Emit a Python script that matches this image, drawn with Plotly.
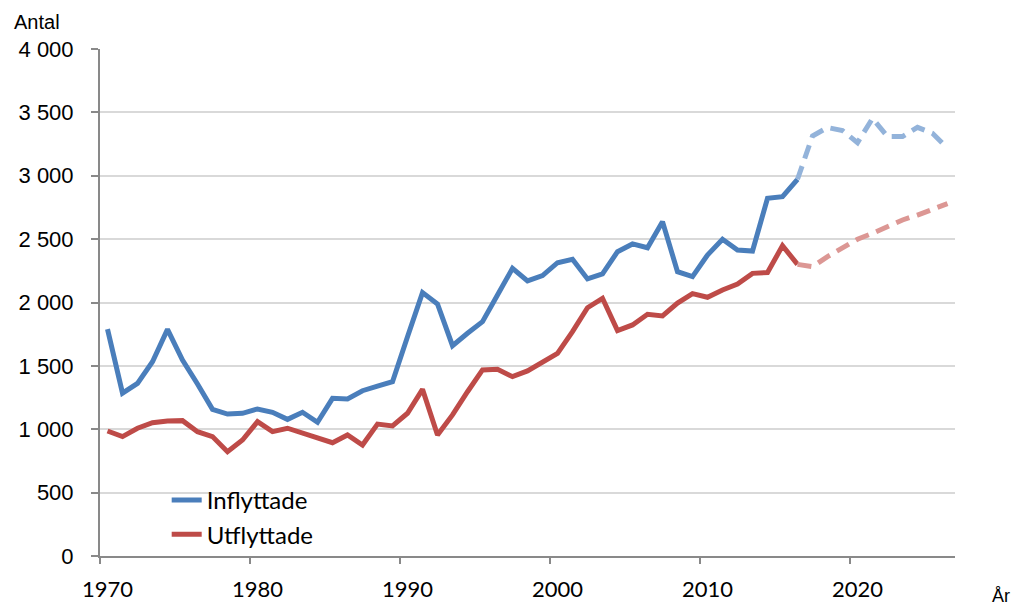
import plotly.graph_objects as go

years = list(range(1970, 2017))
inflyttade = [1790, 1285, 1362, 1533, 1788, 1546, 1357, 1157, 1120, 1126,
              1160, 1134, 1078, 1134, 1055, 1244, 1239, 1304, 1341, 1375,
              1730, 2078, 1988, 1659, 1757, 1849, 2059, 2270, 2170, 2212,
              2314, 2341, 2186, 2225, 2401, 2462, 2432, 2638, 2243, 2204,
              2375, 2499, 2414, 2406, 2822, 2835, 2972]
utflyttade = [986, 942, 1008, 1052, 1065, 1068, 981, 942, 823, 915,
              1060, 981, 1008, 968, 929, 894, 955, 876, 1041, 1026,
              1126, 1315, 955, 1113, 1296, 1468, 1473, 1415, 1460, 1533,
              1599, 1770, 1959, 2033, 1778, 1823, 1907, 1894, 1995, 2070,
              2041, 2099, 2146, 2230, 2236, 2448, 2301]

# prognos, starts at last observed year
prog_years = list(range(2016, 2027))
inflyttade_prog = [2972, 3314, 3380, 3356, 3261, 3453, 3309, 3309, 3382, 3335, 3217]
utflyttade_prog = [2301, 2283, 2362, 2433, 2499, 2546, 2598, 2651, 2690, 2730, 2780]

xticks = [1970, 1980, 1990, 2000, 2010, 2020]
xbounds = [1969.5, 1979.5, 1989.5, 1999.5, 2009.5, 2019.5]
yticks = [0, 500, 1000, 1500, 2000, 2500, 3000, 3500, 4000]

BLUE = "#4a7ebb"
RED = "#be4b48"
BLUE_L = "#93b3da"
RED_L = "#dc9794"

fig = go.Figure()
fig.add_trace(go.Scatter(x=years, y=inflyttade, mode="lines", name="Inflyttade",
                         line=dict(color=BLUE, width=5)))
fig.add_trace(go.Scatter(x=years, y=utflyttade, mode="lines", name="Utflyttade",
                         line=dict(color=RED, width=5)))
fig.add_trace(go.Scatter(x=prog_years, y=inflyttade_prog, mode="lines", showlegend=False,
                         xaxis="x2", line=dict(color=BLUE_L, width=5, dash="14px,8px")))
fig.add_trace(go.Scatter(x=prog_years, y=utflyttade_prog, mode="lines", showlegend=False,
                         xaxis="x2", line=dict(color=RED_L, width=5, dash="14px,8px")))

rng = [1969.5, 2026.5]
fig.update_layout(
    # page body adds an 8px margin, so the figure is a bit smaller than the window
    width=1012, height=602,
    margin=dict(l=92, r=65, t=41, b=54),
    plot_bgcolor="white", paper_bgcolor="white",
    separators=". ",
    xaxis=dict(range=rng, tickvals=xticks, ticks="", showgrid=False, zeroline=False,
               showline=True, linecolor="#898989", linewidth=2, ticklabelstandoff=13,
               automargin=False,
               tickfont=dict(family="Lato", size=22, color="black")),
    xaxis2=dict(range=rng, overlaying="x", anchor="y", side="bottom",
                tickvals=xbounds, ticks="outside", ticklen=7, tickwidth=2,
                tickcolor="#898989", showticklabels=False, showgrid=False,
                zeroline=False, showline=False, automargin=False),
    yaxis=dict(range=[0, 4000], tickvals=yticks, tickformat=",d", ticks="outside",
               ticklen=7, tickwidth=2, tickcolor="#898989", ticklabelstandoff=13,
               showline=True, linecolor="#898989", linewidth=2, automargin=False,
               gridcolor="#d9d9d9", gridwidth=2, zeroline=False,
               tickfont=dict(family="Liberation Sans", size=22, color="black")),
    legend=dict(x=0.078, y=0.154, xanchor="left", yanchor="top",
                bgcolor="rgba(0,0,0,0)", tracegroupgap=0,
                font=dict(family="Lato", size=24, color="black")),
    annotations=[
        dict(text="Antal", xref="paper", yref="paper", x=-0.103, y=1.0, yshift=27,
             xanchor="left", yanchor="middle", showarrow=False,
             font=dict(family="Liberation Sans", size=20, color="black")),
        dict(text="År", xref="paper", yref="paper", x=1.0, xshift=35, y=0, yshift=-40,
             xanchor="left", yanchor="middle", showarrow=False,
             font=dict(family="Liberation Sans", size=18, color="black")),
    ],
)

fig.write_html("out.html")
